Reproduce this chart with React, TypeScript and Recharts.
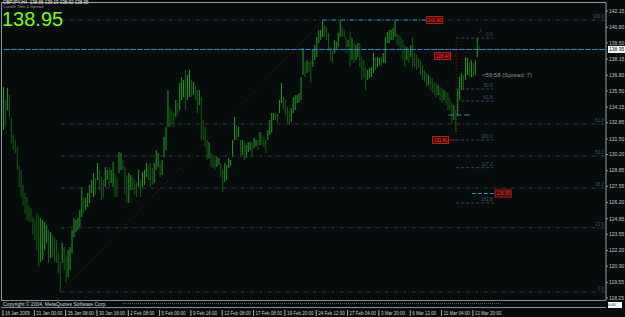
import React from "react";
import {
  ComposedChart,
  Bar,
  Cell,
  XAxis,
  YAxis,
  ReferenceLine,
  ReferenceDot,
} from "recharts";

// GBPJPY H4 bars, one per slot from the left edge
const highs = [
  135.82, 134.74, 135.74, 135.15, 133.24, 131.82, 131.41, 130.82, 129.32, 128.91,
  127.66, 126.99, 126.66, 125.99, 125.74, 124.99, 124.74, 125.33, 125.16, 124.91,
  124.74, 124.58, 124.33, 123.91, 123.75, 123.5, 123.25, 123.08, 122.0, 121.25,
  122.83, 122.5, 121.66, 122.25, 122.5, 123.91, 124.91, 124.74, 124.91, 125.58,
  127.49, 126.66, 126.58, 126.99, 127.66, 128.08, 128.66, 128.24, 129.49, 128.91,
  128.33, 128.08, 129.16, 128.91, 129.16, 128.91, 129.57, 128.66, 128.33, 130.41,
  130.32, 129.74, 129.16, 128.49, 128.66, 128.49, 128.33, 128.08, 127.91, 128.91,
  128.08, 128.74, 128.91, 129.49, 129.32, 129.49, 129.07, 129.49, 130.57, 130.32,
  129.49, 129.74, 131.66, 132.49, 135.57, 134.15, 133.91, 133.66, 134.74, 134.49,
  136.15, 136.65, 136.4, 137.24, 136.82, 137.24, 136.4, 136.24, 135.99, 135.57,
  135.57, 134.99, 133.07, 132.49, 131.41, 131.24, 130.32, 130.16, 129.99, 129.99,
  129.91, 129.49, 128.91, 129.49, 129.32, 129.91, 129.74, 131.41, 133.32, 132.66,
  132.49, 131.41, 131.41, 131.16, 130.99, 131.24, 131.24, 131.16, 131.57, 131.41,
  131.41, 132.07, 131.82, 131.66, 131.41, 132.24, 133.07, 133.66, 133.66, 133.57,
  133.66, 134.74, 136.15, 134.99, 134.74, 134.15, 133.91, 134.07, 134.99, 135.15,
  135.15, 135.32, 136.65, 139.07, 137.82, 138.06, 137.9, 138.06, 138.9, 139.32,
  139.98, 140.57, 140.57, 141.4, 140.98, 140.82, 140.32, 139.15, 138.9, 139.73,
  139.57, 140.32, 141.4, 140.82, 140.57, 139.98, 139.73, 140.4, 139.9, 139.49,
  139.32, 139.49, 139.49, 138.32, 138.06, 137.49, 137.24, 137.4, 137.49, 138.65,
  138.32, 138.32, 138.24, 138.32, 138.65, 139.98, 140.4, 140.57, 140.57, 140.73,
  141.4, 140.32, 140.15, 139.98, 139.73, 139.32, 139.15, 138.9, 139.32, 139.98,
  138.65, 138.49, 138.24, 138.06, 137.65, 137.24, 136.99, 136.82, 136.65, 136.57,
  136.24, 136.15, 135.99, 135.82, 135.74, 135.57, 135.4, 135.32, 134.9, 134.49,
  134.32, 133.91, 135.57, 136.65, 136.99, 136.82, 138.32, 138.24, 137.9, 138.06,
  137.82, 138.06, 139.9, 139.19,
];

const lows = [
  132.24, 132.49, 133.91, 133.32, 131.16, 130.57, 130.32, 128.91, 127.49, 126.66,
  125.99, 125.33, 124.74, 124.58, 124.58, 123.5, 123.08, 122.25, 120.83, 121.25,
  121.42, 122.25, 122.83, 121.16, 121.58, 121.66, 121.25, 121.16, 120.33, 118.75,
  121.16, 120.58, 119.5, 120.0, 120.58, 122.0, 123.33, 123.75, 123.91, 124.16,
  124.99, 125.33, 125.58, 125.83, 126.16, 126.99, 126.66, 126.83, 128.08, 127.24,
  126.41, 126.58, 127.49, 128.08, 127.49, 127.83, 127.49, 126.66, 126.66, 128.66,
  128.91, 128.91, 126.83, 126.16, 126.16, 127.24, 127.24, 126.83, 126.66, 127.49,
  126.66, 127.49, 127.66, 128.33, 128.08, 127.49, 127.66, 127.83, 128.91, 129.16,
  128.33, 128.49, 129.99, 130.57, 132.49, 132.49, 132.66, 132.49, 133.32, 133.49,
  133.91, 134.74, 134.99, 133.91, 134.74, 134.99, 134.99, 135.15, 134.74, 133.66,
  134.32, 131.41, 131.41, 130.82, 129.74, 129.91, 129.16, 129.07, 128.91, 129.16,
  129.32, 128.33, 127.08, 127.91, 128.08, 129.07, 129.24, 129.99, 131.41, 131.41,
  131.66, 129.99, 130.16, 129.74, 129.91, 130.41, 130.57, 129.99, 130.74, 130.91,
  130.57, 130.99, 130.99, 130.82, 130.32, 131.41, 131.82, 131.99, 133.07, 133.07,
  132.82, 133.66, 134.49, 133.91, 133.49, 132.82, 132.66, 132.91, 133.66, 133.91,
  134.49, 134.57, 134.74, 136.82, 136.65, 136.99, 137.07, 136.15, 137.49, 138.06,
  138.32, 139.49, 139.73, 139.98, 139.98, 139.73, 138.9, 138.06, 137.82, 138.65,
  138.9, 139.15, 139.98, 139.98, 139.98, 138.65, 139.15, 137.49, 138.06, 137.82,
  138.06, 138.32, 137.49, 136.4, 136.57, 135.57, 136.4, 136.57, 136.65, 136.99,
  137.24, 137.49, 137.65, 137.49, 137.82, 137.82, 139.49, 139.49, 139.73, 139.73,
  139.98, 139.32, 139.15, 138.9, 138.06, 137.49, 138.06, 137.82, 138.32, 137.49,
  137.49, 137.24, 137.4, 136.82, 136.4, 136.24, 135.82, 135.99, 135.57, 135.32,
  135.15, 134.99, 135.15, 134.74, 134.49, 134.74, 134.32, 133.91, 133.91, 132.82,
  133.07, 132.07, 133.49, 134.74, 135.57, 135.57, 136.4, 136.82, 136.65, 136.65,
  136.65, 136.82, 138.32, 138.82,
];

const SLOTS = 308;

const timeLabels = [
  "16 Jan 2009", "21 Jan 00:00", "26 Jan 08:00", "30 Jan 16:00",
  "2 Feb 08:00", "5 Feb 00:00", "9 Feb 16:00", "12 Feb 08:00",
  "17 Feb 08:00", "19 Feb 20:00", "24 Feb 12:00", "27 Feb 04:00",
  "3 Mar 20:00", "6 Mar 12:00", "11 Mar 04:00", "13 Mar 20:00",
];

const priceTicks = [
  142.15, 140.8, 139.5, 138.15, 136.8, 135.5, 134.15, 132.85, 131.5, 130.2,
  128.85, 127.55, 126.2, 124.85, 123.55, 122.2, 120.9, 119.55, 118.25,
];

const lastPrice = 138.95;
const header = "GBPJPY,H4  138.86 139.19 138.92 138.95";

// retracement drawn from the January low to the February high
const fibFrom = { i: 29, price: 118.75 };
const fibTo = { i: 163, price: 141.4 };
const fibLevels = [0, 23.6, 38.2, 50, 61.8, 100];

// short projection on the last swing
const projTop = 139.9;
const projBottom = 131.41;
const projStart = 231;
const projEnd = 250;
const projLevels = [0, 50, 61.8, 100, 127.2, 161.8];

const tags = [
  { i: 220, price: 141.4, text: "141.40" },
  { i: 224, price: 138.4, text: "138.40" },
  { i: 223, price: 131.41, text: "131.41" },
  { i: 255, price: 126.95, text: "126.95" },
];

const table = Array.from({ length: SLOTS }, (_, i) => ({
  i,
  range: i < highs.length ? [lows[i], highs[i]] : null,
}));

const mids = highs.map((h, k) => (h + lows[k]) / 2);

const BG = "#060b0b";
const FRAME = "#9a9a9a";
const FIB_LINE = "#313d44";
const FIB_TEXT = "#3b5b7a";
const SMALL_FONT = "'Liberation Sans', Arial, sans-serif";

function LevelTag({ viewBox, text }: any) {
  if (!viewBox) return null;
  return (
    <text
      x={viewBox.x + viewBox.width - 1}
      y={viewBox.y - 2}
      textAnchor="end"
      fontSize={4.5}
      fill={FIB_TEXT}
    >
      {text}
    </text>
  );
}

function PriceBox({ viewBox, text }: any) {
  if (!viewBox) return null;
  const x = viewBox.x + viewBox.width + 3;
  return (
    <g>
      <rect x={x} y={viewBox.y - 3.5} width={17} height={7} fill="#ffffff" />
      <text x={x + 1} y={viewBox.y + 2} fontSize={5} fill="#000000">
        {text}
      </text>
    </g>
  );
}

const redTag = (text: string) => (p: any) => (
  <g>
    <rect
      x={p.cx - 8}
      y={p.cy - 3.5}
      width={16}
      height={7}
      fill="#3a0505"
      stroke="#c41a1a"
      strokeWidth={1}
    />
    <text x={p.cx} y={p.cy + 1.8} textAnchor="middle" fontSize={4.5} fill="#ff3a3a">
      {text}
    </text>
  </g>
);

const fractal = (p: any) => (
  <text x={p.cx} y={p.cy + 3} textAnchor="middle" fontSize={8} fill="#d01818">
    ♪
  </text>
);

function TimeTick({ x, y, payload }: any) {
  const v = payload.value;
  if (v % 16 !== 0) return null;
  const label = timeLabels[v / 16];
  if (!label) return null;
  return (
    <g>
      <line x1={x - 1} y1={y + 10} x2={x - 1} y2={y + 16} stroke="#b0b0b0" />
      <text x={x + 1} y={y + 15} fontSize={4.5} fill="#cfcfcf">
        {label}
      </text>
    </g>
  );
}

export default function App() {
  return (
    <div
      style={{
        position: "absolute",
        left: 0,
        top: 0,
        width: 625,
        height: 317,
        background: BG,
        overflow: "hidden",
        fontFamily: SMALL_FONT,
      }}
    >
      <ComposedChart
        width={625}
        height={317}
        data={table}
        margin={{ top: 3, right: 0, bottom: 0, left: 3 }}
      >
        <XAxis
          dataKey="i"
          type="category"
          interval={15}
          height={17}
          tickSize={0}
          tickMargin={0}
          axisLine={false}
          tickLine={false}
          tick={<TimeTick />}
        />
        <YAxis
          orientation="right"
          width={19}
          domain={[118.08, 142.82]}
          allowDataOverflow
          ticks={priceTicks}
          interval={0}
          tickSize={2}
          tickMargin={1}
          tick={{ fontSize: 5, fill: "#c4c4c4" }}
          tickFormatter={(v: number) => v.toFixed(2)}
          axisLine={{ stroke: FRAME }}
          tickLine={{ stroke: FRAME }}
        />

        {/* retracement levels */}
        {fibLevels.map((lvl) => {
          const price = fibFrom.price + ((fibTo.price - fibFrom.price) * lvl) / 100;
          return (
            <ReferenceLine
              key={"fib" + lvl}
              segment={[
                { x: fibFrom.i, y: price },
                { x: SLOTS - 1, y: price },
              ]}
              stroke={FIB_LINE}
              strokeDasharray="4 2 1 2"
              label={<LevelTag text={lvl.toFixed(1)} />}
            />
          );
        })}

        {/* projection levels */}
        {projLevels.map((lvl) => {
          const price = projTop - ((projTop - projBottom) * lvl) / 100;
          return (
            <ReferenceLine
              key={"proj" + lvl}
              segment={[
                { x: projStart, y: price },
                { x: projEnd, y: price },
              ]}
              stroke="#3a464e"
              strokeDasharray="3 2"
              label={<LevelTag text={lvl.toFixed(1)} />}
            />
          );
        })}

        {/* trendline low -> high */}
        <ReferenceLine
          segment={[
            { x: fibFrom.i, y: fibFrom.price },
            { x: fibTo.i, y: fibTo.price },
          ]}
          stroke="#7a1212"
          strokeDasharray="1 2"
        />
        <ReferenceLine
          segment={[
            { x: fibTo.i, y: fibTo.price },
            { x: tags[0].i - 2, y: fibTo.price },
          ]}
          stroke="#2b8cc4"
          strokeDasharray="4 2 1 2"
        />
        <ReferenceLine
          segment={[
            { x: projStart, y: projTop },
            { x: projStart, y: projBottom },
          ]}
          stroke="#8a1515"
          strokeDasharray="1 2"
        />
        <ReferenceLine
          segment={[
            { x: tags[1].i + 4, y: tags[1].price },
            { x: projStart, y: tags[1].price },
          ]}
          stroke="#b01818"
          strokeDasharray="1 1"
        />
        <ReferenceLine
          segment={[
            { x: tags[2].i + 4, y: tags[2].price },
            { x: projStart, y: tags[2].price },
          ]}
          stroke="#b01818"
        />
        <ReferenceLine
          segment={[
            { x: 227, y: 133.49 },
            { x: 239, y: 133.49 },
          ]}
          stroke="#2a9ac8"
          strokeDasharray="5 3"
        />
        <ReferenceLine
          segment={[
            { x: 239, y: tags[3].price },
            { x: tags[3].i - 4, y: tags[3].price },
          ]}
          stroke="#2a9ac8"
          strokeDasharray="4 2"
        />

        {/* current price */}
        <ReferenceLine
          segment={[
            { x: 0, y: lastPrice },
            { x: SLOTS - 1, y: lastPrice },
          ]}
          stroke="#3585c8"
          strokeDasharray="6 1"
          label={<PriceBox text={lastPrice.toFixed(2)} />}
        />

        <Bar dataKey="range" barSize={1} isAnimationActive={false}>
          {table.map((d, k) => (
            <Cell
              key={k}
              fill={k > 0 && k < mids.length && mids[k] < mids[k - 1] ? "#10600f" : "#239c23"}
            />
          ))}
        </Bar>

        {tags.map((t) => (
          <ReferenceDot
            key={t.text}
            x={t.i}
            y={t.price}
            r={4}
            shape={redTag(t.text)}
          />
        ))}
        <ReferenceDot x={243} y={140.57} r={3} shape={fractal} />
      </ComposedChart>

      {/* frame */}
      <div style={{ position: "absolute", left: 1, top: 2, width: 605, height: 0, borderTop: `1px solid ${FRAME}` }} />
      <div style={{ position: "absolute", left: 1, top: 2, width: 0, height: 298, borderLeft: `1px solid ${FRAME}` }} />

      {/* indicator strip */}
      <div
        style={{
          position: "absolute",
          left: 1,
          top: 300,
          width: 605,
          height: 8,
          borderTop: "1px solid #8c8c8c",
          borderBottom: "1px solid #8c8c8c",
          boxSizing: "border-box",
        }}
      >
        <div
          style={{
            position: "absolute",
            left: 122,
            top: 2,
            width: 378,
            height: 0,
            borderTop: "1px dotted #1f6e3c",
          }}
        />
        <span
          style={{
            position: "absolute",
            left: 2,
            top: 0,
            fontSize: 5,
            lineHeight: "6px",
            color: "#d8d8d8",
            whiteSpace: "nowrap",
          }}
        >
          Copyright © 2004, MetaQuotes Software Corp.
        </span>
      </div>
      <div
        style={{
          position: "absolute",
          left: 608,
          top: 302,
          width: 14,
          height: 6,
          background: "#ffffff",
          fontSize: 4,
          lineHeight: "6px",
          color: "#000",
        }}
      >
        0.00
      </div>

      {/* header texts */}
      <div style={{ position: "absolute", left: 3, top: 0, fontSize: 4.5, lineHeight: "5px", color: "#e8e8e8", whiteSpace: "pre" }}>
        {header}
      </div>
      <div style={{ position: "absolute", left: 3, top: 5, fontSize: 4, lineHeight: "4px", color: "#9a9a9a", whiteSpace: "pre" }}>
        Candle Time & Spread
      </div>
      <div
        style={{
          position: "absolute",
          left: 2,
          top: 12,
          fontSize: 20,
          lineHeight: "14px",
          height: 14,
          color: "#7cfc00",
        }}
      >
        138.95
      </div>
      <div
        style={{
          position: "absolute",
          left: 482,
          top: 71,
          fontSize: 6,
          lineHeight: "8px",
          color: "#8c8c8c",
          whiteSpace: "pre",
        }}
      >
        {"<59:58 (Spread: 7)"}
      </div>
    </div>
  );
}
